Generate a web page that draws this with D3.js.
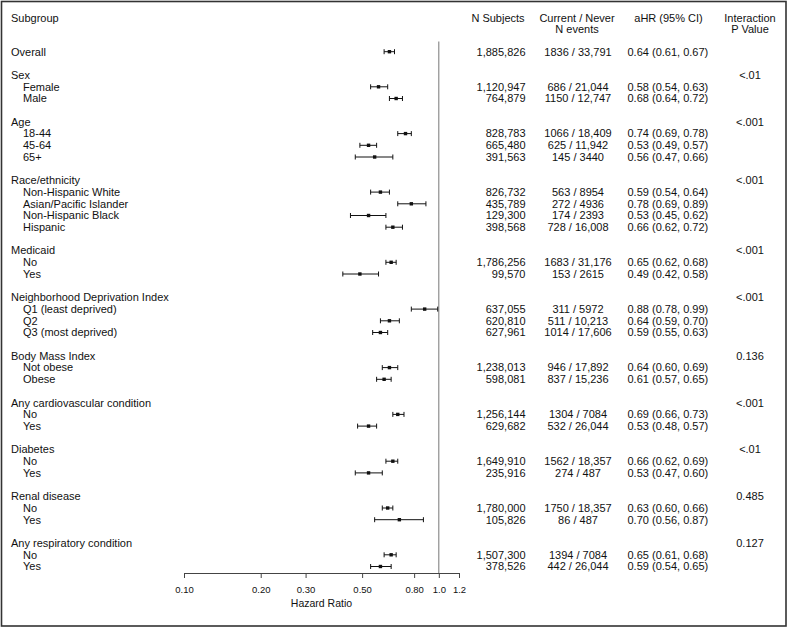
<!DOCTYPE html>
<html>
<head>
<meta charset="utf-8">
<script src="https://cdn.jsdelivr.net/npm/d3@7"></script>
<style>
  body { margin: 0; background: #fff; }
  svg text { font-family: "Liberation Sans", Arial, Helvetica, sans-serif; fill: #111; }
</style>
</head>
<body>
<svg id="chart" width="788" height="628"></svg>
<script>
// rows of the forest plot, top to bottom (level 0 = group heading, 1 = subgroup)
var rowLabels = ["Overall",
  "Sex", "Female", "Male",
  "Age", "18-44", "45-64", "65+",
  "Race/ethnicity", "Non-Hispanic White", "Asian/Pacific Islander", "Non-Hispanic Black", "Hispanic",
  "Medicaid", "No", "Yes",
  "Neighborhood Deprivation Index", "Q1 (least deprived)", "Q2", "Q3 (most deprived)",
  "Body Mass Index", "Not obese", "Obese",
  "Any cardiovascular condition", "No", "Yes",
  "Diabetes", "No", "Yes",
  "Renal disease", "No", "Yes",
  "Any respiratory condition", "No", "Yes"];
var rowLevel = [0, 0,1,1, 0,1,1,1, 0,1,1,1,1, 0,1,1, 0,1,1,1, 0,1,1, 0,1,1, 0,1,1, 0,1,1, 0,1,1];
var nSubjects = ["1,885,826", "", "1,120,947", "764,879", "", "828,783", "665,480", "391,563",
  "", "826,732", "435,789", "129,300", "398,568", "", "1,786,256", "99,570",
  "", "637,055", "620,810", "627,961", "", "1,238,013", "598,081", "", "1,256,144", "629,682",
  "", "1,649,910", "235,916", "", "1,780,000", "105,826", "", "1,507,300", "378,526"];
var nEvents = ["1836 / 33,791", "", "686 / 21,044", "1150 / 12,747", "", "1066 / 18,409", "625 / 11,942", "145 / 3440",
  "", "563 / 8954", "272 / 4936", "174 / 2393", "728 / 16,008", "", "1683 / 31,176", "153 / 2615",
  "", "311 / 5972", "511 / 10,213", "1014 / 17,606", "", "946 / 17,892", "837 / 15,236", "", "1304 / 7084", "532 / 26,044",
  "", "1562 / 18,357", "274 / 487", "", "1750 / 18,357", "86 / 487", "", "1394 / 7084", "442 / 26,044"];
var hrEst = [0.64, null,0.58,0.68, null,0.74,0.53,0.56, null,0.59,0.78,0.53,0.66, null,0.65,0.49,
  null,0.88,0.64,0.59, null,0.64,0.61, null,0.69,0.53, null,0.66,0.53, null,0.63,0.70, null,0.65,0.59];
var hrLow = [0.61, null,0.54,0.64, null,0.69,0.49,0.47, null,0.54,0.69,0.45,0.62, null,0.62,0.42,
  null,0.78,0.59,0.55, null,0.60,0.57, null,0.66,0.48, null,0.62,0.47, null,0.60,0.56, null,0.61,0.54];
var hrHigh = [0.67, null,0.63,0.72, null,0.78,0.57,0.66, null,0.64,0.89,0.62,0.72, null,0.68,0.58,
  null,0.99,0.70,0.63, null,0.69,0.65, null,0.73,0.57, null,0.69,0.60, null,0.66,0.87, null,0.68,0.65];
var pValues = ["", "<.01","","", "<.001","","","", "<.001","","","","", "<.001","","",
  "<.001","","","", "0.136","","", "<.001","","", "<.01","","", "0.485","","", "0.127","",""];
var hrTicks = [0.10, 0.20, 0.30, 0.50, 0.80, 1.0, 1.2];
var tickLabels = ["0.10", "0.20", "0.30", "0.50", "0.80", "1.0", "1.2"];

var svg = d3.select("#chart");

// frame
svg.append("rect").attr("x", 1.5).attr("y", 1.5).attr("width", 784.5).attr("height", 624.5)
  .attr("fill", "none").attr("stroke", "#333").attr("stroke-width", 1.6);

// row slots: a blank slot before each group heading
var slot = [], s = -1;
rowLabels.forEach(function(d, i){
  s += (rowLevel[i] === 0 && i > 0) ? 2 : 1;
  slot.push(s);
});
var y = d3.scaleLinear().domain([0, 44]).range([51.7, 566.5]);
var x = d3.scaleLog().domain([0.1, 1.2]).range([184, 459]);

// headers
var head = svg.append("g").attr("font-size", 11);
head.append("text").attr("x", 11).attr("y", 21.5).text("Subgroup");
head.append("text").attr("x", 498).attr("y", 21.5).attr("text-anchor", "middle").text("N Subjects");
head.append("text").attr("x", 577).attr("y", 21.5).attr("text-anchor", "middle").text("Current / Never");
head.append("text").attr("x", 577).attr("y", 33).attr("text-anchor", "middle").text("N events");
head.append("text").attr("x", 668.5).attr("y", 21.5).attr("text-anchor", "middle").text("aHR (95% CI)");
head.append("text").attr("x", 750).attr("y", 21.5).attr("text-anchor", "middle").text("Interaction");
head.append("text").attr("x", 750).attr("y", 33).attr("text-anchor", "middle").text("P Value");

// reference line at HR = 1
svg.append("line").attr("x1", x(1)).attr("x2", x(1)).attr("y1", 41.5).attr("y2", 573)
  .attr("stroke", "#777").attr("stroke-width", 1);

var rows = svg.append("g").attr("font-size", 11)
  .selectAll("g").data(rowLabels).join("g")
  .attr("transform", function(d, i){ return "translate(0," + y(slot[i]) + ")"; });

rows.append("text").attr("x", function(d, i){ return rowLevel[i] ? 23 : 11; })
  .attr("dy", "0.35em").text(function(d){ return d; });
rows.append("text").attr("x", 525.5).attr("dy", "0.35em").attr("text-anchor", "end")
  .text(function(d, i){ return nSubjects[i]; });
rows.append("text").attr("x", 578).attr("dy", "0.35em").attr("text-anchor", "middle")
  .text(function(d, i){ return nEvents[i]; });
rows.append("text").attr("x", 627.5).attr("dy", "0.35em")
  .text(function(d, i){
    return hrEst[i] == null ? "" : hrEst[i].toFixed(2) + " (" + hrLow[i].toFixed(2) + ", " + hrHigh[i].toFixed(2) + ")";
  });
rows.append("text").attr("x", 750).attr("dy", "0.35em").attr("text-anchor", "middle")
  .text(function(d, i){ return pValues[i]; });

// confidence intervals and point estimates
rows.each(function(d, i){
  if (hrEst[i] == null) return;
  var g = d3.select(this).append("g").attr("stroke", "#111").attr("stroke-width", 1);
  g.append("line").attr("x1", x(hrLow[i])).attr("x2", x(hrHigh[i])).attr("y1", 0).attr("y2", 0);
  g.append("line").attr("x1", x(hrLow[i])).attr("x2", x(hrLow[i])).attr("y1", -2.5).attr("y2", 2.5);
  g.append("line").attr("x1", x(hrHigh[i])).attr("x2", x(hrHigh[i])).attr("y1", -2.5).attr("y2", 2.5);
  g.append("rect").attr("x", x(hrEst[i]) - 1.7).attr("y", -1.7).attr("width", 3.4).attr("height", 3.4)
    .attr("fill", "#111").attr("stroke", "none");
});

// hazard ratio axis
var axis = svg.append("g").attr("transform", "translate(0,573)")
  .call(d3.axisBottom(x).tickValues(hrTicks).tickFormat(function(d, i){ return tickLabels[i]; })
    .tickSize(5).tickSizeOuter(0).tickPadding(8));
axis.select(".domain").attr("stroke", "#444");
axis.selectAll(".tick line").attr("stroke", "#444");
axis.selectAll(".tick text").attr("font-size", 9.5)
  .attr("font-family", "Liberation Sans, Arial, sans-serif").attr("fill", "#111");
svg.append("text").attr("x", (x.range()[0] + x.range()[1]) / 2).attr("y", 607)
  .attr("text-anchor", "middle").attr("font-size", 10.5).text("Hazard Ratio");
</script>
</body>
</html>
